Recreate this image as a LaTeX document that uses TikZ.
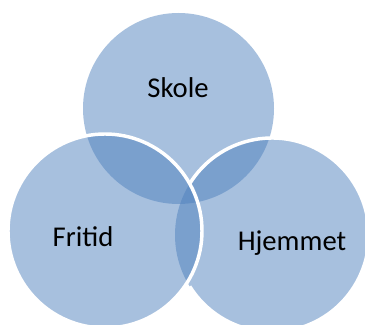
\documentclass[tikz,border=0pt]{standalone}
\usepackage{fontspec}
\setmainfont{Carlito}
\definecolor{vennblue}{RGB}{79,129,189}
\begin{document}
\begin{tikzpicture}[x=0.75pt,y=0.75pt,
	venn/.style={fill=vennblue,fill opacity=0.5},
	rim/.style={draw=white,line width=2.6pt},
	vennlabel/.style={font=\fontsize{21.5}{26}\selectfont,anchor=base}]
\useasboundingbox (0,0) rectangle (365,325);
\clip (0,0) rectangle (365,325);
% circles
\fill[venn] (178.5,216.5) circle (95.5);
\fill[venn] (272,90) circle (97);
\fill[venn] (105,94) circle (97);
\draw[rim] (272,90) ++(148:97) arc (148:-148:97);
\draw[rim] (105,94) circle (97);
% labels
\node[vennlabel] (skole) at (178,227) {Skole};
\node[vennlabel] (fritid) at (83,78) {Fritid};
\node[vennlabel] (hjemmet) at (292,74) {Hjemmet};
\end{tikzpicture}
\end{document}
